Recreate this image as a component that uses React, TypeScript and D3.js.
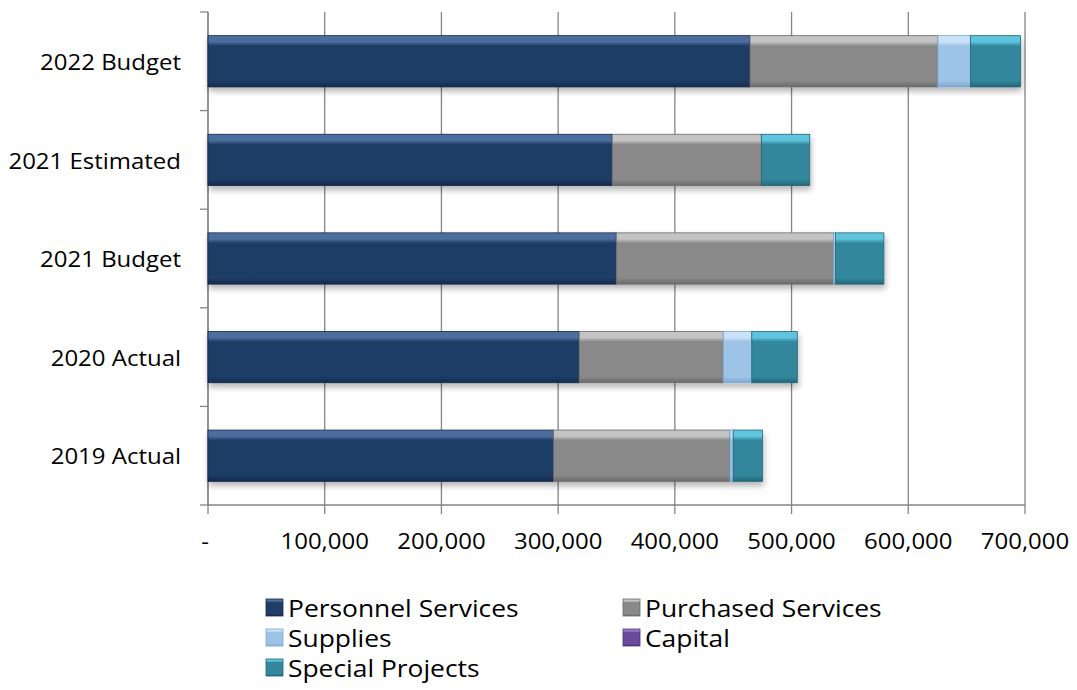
import React from "react";
import * as d3 from "d3";

const categories = ["2022 Budget", "2021 Estimated", "2021 Budget", "2020 Actual", "2019 Actual"];
const seriesNames = ["Personnel Services", "Purchased Services", "Supplies", "Capital", "Special Projects"];
const personnel = [464400, 346300, 349800, 318000, 296100];
const purchased = [161000, 127800, 186300, 123500, 151200];
const supplies = [27800, 0, 1500, 24400, 2700];
const capital = [0, 0, 0, 0, 0];
const special = [42900, 41500, 41500, 39000, 25100];
const xTicks = [0, 100000, 200000, 300000, 400000, 500000, 600000, 700000];

const colors = ["#1F3D66", "#898989", "#9DC3E6", "#6A4A9C", "#32879D"];
const lightColors = ["#4C6E9E", "#C4C4C4", "#C9E2F7", "#9A7BC8", "#5FC4DD"];
const darkColors = ["#14294A", "#6A6A6A", "#7FA9D0", "#4E3477", "#226677"];

const W = 1077;
const H = 690;
const left = 208;
const right = 1025;
const top = 12;
const bottom = 505;
const SX = 1.09;

export default function App() {
  const x = d3.scaleLinear().domain([0, 700000]).range([left, right]);
  const y = d3.scaleBand<string>().domain(categories).range([top, bottom]).paddingInner(0.48).paddingOuter(0.24);
  const rows = categories.map((c, i) => ({
    cat: c,
    vals: [personnel[i], purchased[i], supplies[i], capital[i], special[i]],
  }));
  const stack = d3.stack<any, number>().keys([0, 1, 2, 3, 4]).value((d: any, k: number) => d.vals[k]);
  const stacked = stack(rows as any);
  const fmt = (v: number) => (v === 0 ? "-" : d3.format(",")(v));
  const bandStep = (bottom - top) / categories.length;
  const font = "'Open Sans', Lato, sans-serif";

  const legendItems = [
    { name: seriesNames[0], k: 0, x: 266, y: 607 },
    { name: seriesNames[1], k: 1, x: 623, y: 607 },
    { name: seriesNames[2], k: 2, x: 266, y: 637 },
    { name: seriesNames[3], k: 3, x: 623, y: 637 },
    { name: seriesNames[4], k: 4, x: 266, y: 667 },
  ];

  return (
    <svg width={W} height={H} style={{ position: "absolute", left: 0, top: 0 }} fontFamily={font}>
      <defs>
        {colors.map((c, k) => (
          <linearGradient key={k} id={`g${k}`} x1="0" y1="0" x2="0" y2="1">
            <stop offset="0" stopColor={lightColors[k]} />
            <stop offset="0.12" stopColor={lightColors[k]} />
            <stop offset="0.2" stopColor={c} />
            <stop offset="0.88" stopColor={c} />
            <stop offset="1" stopColor={darkColors[k]} />
          </linearGradient>
        ))}
        <filter id="sh" x="-5%" y="-20%" width="110%" height="160%">
          <feGaussianBlur in="SourceAlpha" stdDeviation="3" />
          <feOffset dx="1" dy="4" result="o" />
          <feComponentTransfer>
            <feFuncA type="linear" slope="0.3" />
          </feComponentTransfer>
          <feMerge>
            <feMergeNode />
            <feMergeNode in="SourceGraphic" />
          </feMerge>
        </filter>
      </defs>
      {xTicks.map((t) => (
        <line key={t} x1={x(t)} x2={x(t)} y1={top} y2={bottom + 9} stroke="#858585" strokeWidth={1.3} />
      ))}
      <line x1={left} x2={right} y1={bottom} y2={bottom} stroke="#858585" strokeWidth={1.3} />
      <line x1={left} x2={left} y1={top} y2={bottom} stroke="#858585" strokeWidth={1.3} />
      {d3.range(categories.length + 1).map((i) => (
        <line key={i} x1={left - 8} x2={left} y1={top + i * bandStep} y2={top + i * bandStep} stroke="#858585" strokeWidth={1.3} />
      ))}
      {rows.map((r, i) => (
        <g key={r.cat} filter="url(#sh)">
          {stacked.map((s, k) => {
            const d = s[i];
            const w = x(d[1]) - x(d[0]);
            if (w <= 0) return null;
            return (
              <rect
                key={k}
                x={x(d[0])}
                y={y(r.cat)!}
                width={w}
                height={y.bandwidth()}
                fill={`url(#g${k})`}
                stroke={darkColors[k]}
                strokeWidth={0.8}
              />
            );
          })}
        </g>
      ))}
      {categories.map((c) => (
        <text
          key={c}
          transform={`translate(181,${y(c)! + y.bandwidth() / 2}) scale(${SX},1)`}
          textAnchor="end"
          dominantBaseline="central"
          fontSize={22}
          fill="#000"
        >
          {c}
        </text>
      ))}
      {xTicks.map((t) => (
        <text
          key={t}
          transform={`translate(${t === 0 ? x(t) - 3 : x(t)},540) scale(${SX},1)`}
          textAnchor="middle"
          dominantBaseline="central"
          fontSize={22}
          fill="#000"
        >
          {fmt(t)}
        </text>
      ))}
      {legendItems.map((l) => (
        <g key={l.name}>
          <rect x={l.x} y={l.y - 8} width={17} height={17} fill={`url(#g${l.k})`} stroke={darkColors[l.k]} strokeWidth={0.8} />
          <text
            transform={`translate(${l.x + 22},${l.y}) scale(${SX + 0.01},1)`}
            dominantBaseline="central"
            fontSize={24}
            fill="#000"
          >
            {l.name}
          </text>
        </g>
      ))}
    </svg>
  );
}
